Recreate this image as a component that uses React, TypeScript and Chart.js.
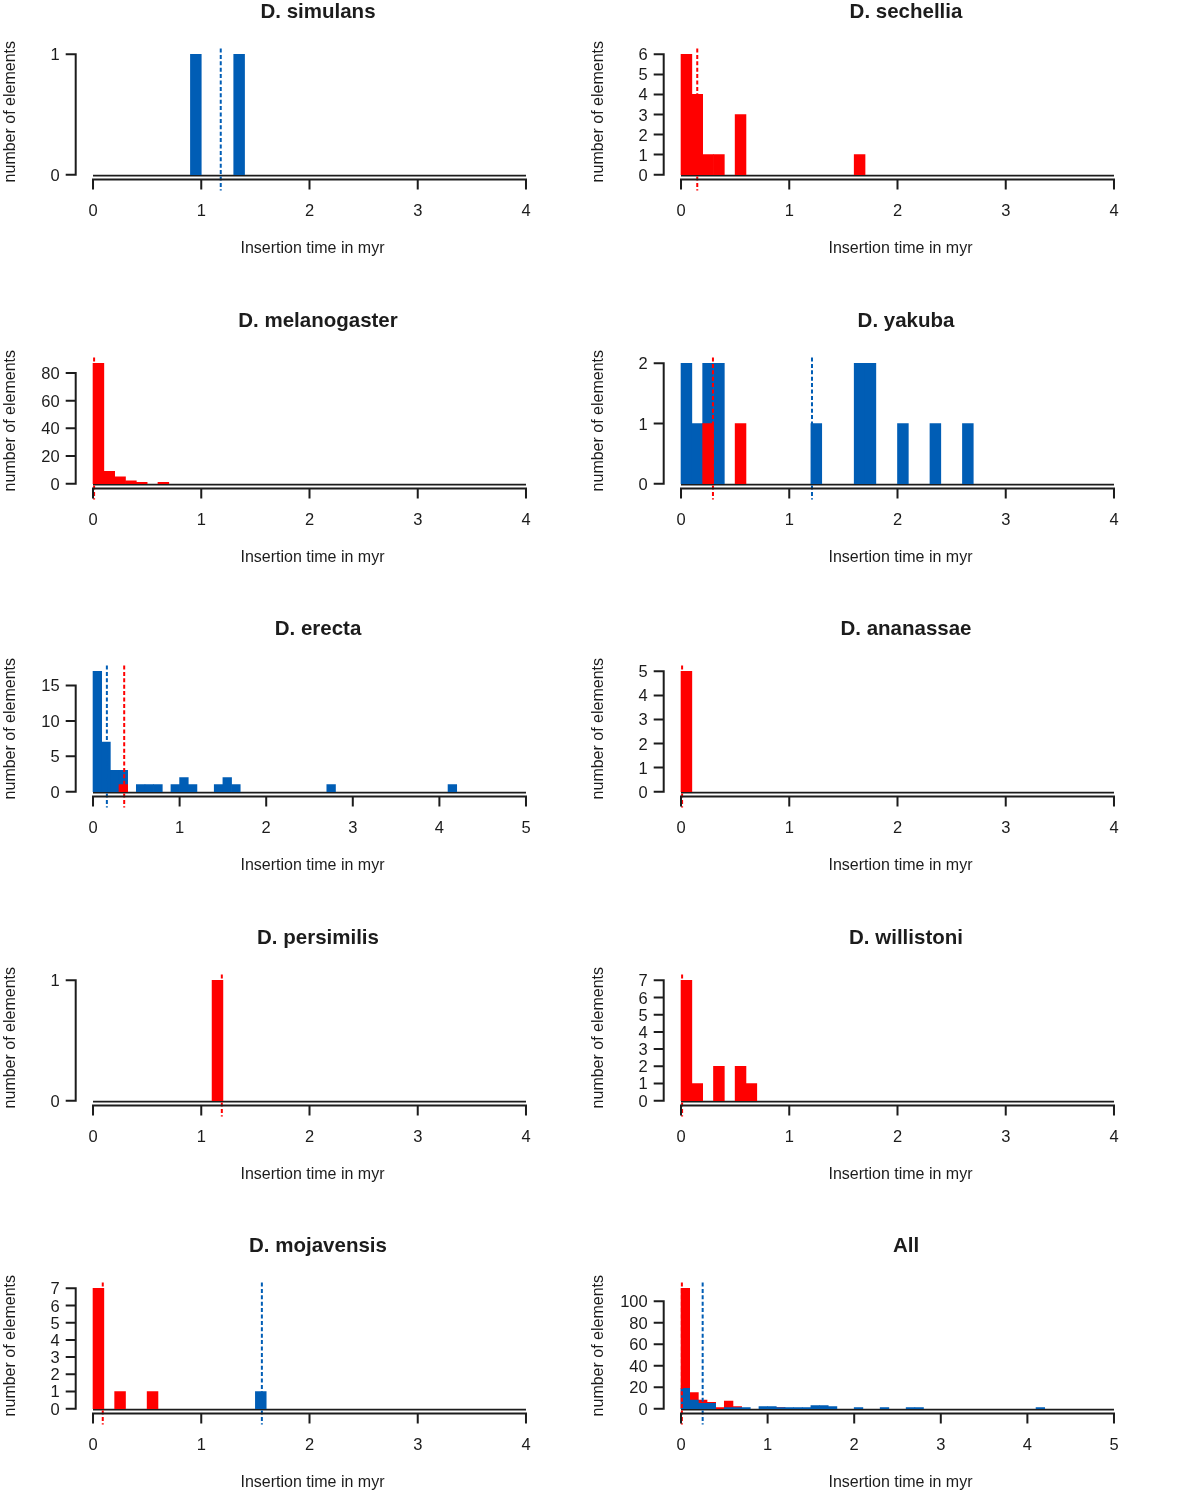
import React, { useEffect, useRef } from 'react';
import { Chart, registerables } from 'chart.js';

Chart.register(...registerables);

// ---------------- data ----------------
const BIN_WIDTH = 0.1; // myr per histogram bin

const titles = [
  'D. simulans', 'D. sechellia', 'D. melanogaster', 'D. yakuba', 'D. erecta',
  'D. ananassae', 'D. persimilis', 'D. willistoni', 'D. mojavensis', 'All',
];

// [bin start (myr), number of elements]
const simulansRed: [number, number][] = [];
const simulansBlue: [number, number][] = [[0.9, 1], [1.3, 1]];
const sechelliaRed: [number, number][] = [[0, 6], [0.1, 4], [0.2, 1], [0.3, 1], [0.5, 3], [1.6, 1]];
const sechelliaBlue: [number, number][] = [];
const melanogasterRed: [number, number][] = [[0, 87], [0.1, 9], [0.2, 5], [0.3, 2], [0.4, 1], [0.6, 1]];
const melanogasterBlue: [number, number][] = [];
const yakubaRed: [number, number][] = [[0.2, 1], [0.5, 1]];
const yakubaBlue: [number, number][] = [
  [0, 2], [0.1, 1], [0.2, 2], [0.3, 2], [1.2, 1], [1.6, 2], [1.7, 2], [2.0, 1], [2.3, 1], [2.6, 1],
];
const erectaRed: [number, number][] = [[0.3, 1]];
const erectaBlue: [number, number][] = [
  [0, 17], [0.1, 7], [0.2, 3], [0.3, 3], [0.5, 1], [0.6, 1], [0.7, 1], [0.9, 1], [1.0, 2], [1.1, 1],
  [1.4, 1], [1.5, 2], [1.6, 1], [2.7, 1], [4.1, 1],
];
const ananassaeRed: [number, number][] = [[0, 5]];
const ananassaeBlue: [number, number][] = [];
const persimilisRed: [number, number][] = [[1.1, 1]];
const persimilisBlue: [number, number][] = [];
const willistoniRed: [number, number][] = [[0, 7], [0.1, 1], [0.3, 2], [0.5, 2], [0.6, 1]];
const willistoniBlue: [number, number][] = [];
const mojavensisRed: [number, number][] = [[0, 7], [0.2, 1], [0.5, 1]];
const mojavensisBlue: [number, number][] = [[1.5, 1]];
const allRed: [number, number][] = [
  [0, 112], [0.1, 15], [0.2, 8], [0.3, 6], [0.4, 1], [0.5, 7], [0.6, 2], [1.1, 1], [1.6, 1],
];
const allBlue: [number, number][] = [
  [0, 19], [0.1, 8], [0.2, 5], [0.3, 5], [0.5, 1], [0.6, 1], [0.7, 1], [0.9, 2], [1.0, 2], [1.1, 1],
  [1.2, 1], [1.3, 1], [1.4, 1], [1.5, 3], [1.6, 3], [1.7, 2], [2.0, 1], [2.3, 1], [2.6, 1], [2.7, 1], [4.1, 1],
];

const redSeries = [simulansRed, sechelliaRed, melanogasterRed, yakubaRed, erectaRed,
  ananassaeRed, persimilisRed, willistoniRed, mojavensisRed, allRed];
const blueSeries = [simulansBlue, sechelliaBlue, melanogasterBlue, yakubaBlue, erectaBlue,
  ananassaeBlue, persimilisBlue, willistoniBlue, mojavensisBlue, allBlue];

// dashed mean lines (myr); null = none
const redMeans: (number | null)[] = [null, 0.15, 0.01, 0.295, 0.36, 0.01, 1.19, 0.01, 0.09, 0.01];
const blueMeans: (number | null)[] = [1.18, null, null, 1.21, 0.16, null, null, null, 1.56, 0.25];

// axis extents / tick spacing
const xMaxes = [4, 4, 4, 4, 5, 4, 4, 4, 4, 5];
const yTickSteps = [1, 1, 20, 1, 5, 1, 1, 1, 1, 20];

const X_LABEL = 'Insertion time in myr';
const Y_LABEL = 'number of elements';

// ---------------- styling ----------------
const RED = '#ff0000';
const BLUE = '#005db5';
const INK = '#1c1c1c';
const FONT = "'Liberation Sans', Arial, Helvetica, sans-serif";

const CANVAS_W = 588;
const CANVAS_H = 309;
const ROW_PITCH = 308.6;
const PAD = { left: 75.7, right: CANVAS_W - 543.3, top: 49.5, bottom: CANVAS_H - 179.5 };

function toBins(series: [number, number][], xMax: number) {
  const n = Math.round(xMax / BIN_WIDTH);
  const counts: (number | null)[] = new Array(n).fill(null);
  for (const [start, c] of series) {
    const i = Math.round(start / BIN_WIDTH);
    counts[i] = c;
  }
  return counts.map((c, i) => ({ x: (i + 0.5) * BIN_WIDTH, y: c }));
}

function maxOf(series: [number, number][]) {
  return series.reduce((m, [, c]) => Math.max(m, c), 0);
}

function makePlugin(idx: number, yMax: number) {
  const xMax = xMaxes[idx];
  const step = yTickSteps[idx];
  return {
    id: 'rPanel' + idx,
    beforeDatasetsDraw(chart: any) {
      const { ctx } = chart;
      const xs = chart.scales.x;
      const ys = chart.scales.y;
      const y0 = ys.getPixelForValue(0);
      ctx.save();
      ctx.strokeStyle = INK;
      ctx.lineWidth = 1.8;
      ctx.beginPath();
      ctx.moveTo(xs.getPixelForValue(0), y0 + 0.9);
      ctx.lineTo(xs.getPixelForValue(xMax), y0 + 0.9);
      ctx.stroke();
      ctx.restore();
    },
    afterDatasetsDraw(chart: any) {
      const { ctx, chartArea } = chart;
      const xs = chart.scales.x;
      const ys = chart.scales.y;
      ctx.save();
      // dashed mean lines
      const means: [number | null, string][] = [[redMeans[idx], RED], [blueMeans[idx], BLUE]];
      for (const [m, col] of means) {
        if (m === null) continue;
        const px = xs.getPixelForValue(m);
        ctx.strokeStyle = col;
        ctx.lineWidth = 2;
        ctx.setLineDash([4, 2.4]);
        ctx.beginPath();
        ctx.moveTo(px, chartArea.top - 1);
        ctx.lineTo(px, chartArea.bottom + 11);
        ctx.stroke();
      }
      ctx.setLineDash([]);

      ctx.strokeStyle = INK;
      ctx.fillStyle = INK;
      ctx.lineWidth = 2;

      // x axis
      const xb = chartArea.bottom;
      ctx.beginPath();
      ctx.moveTo(xs.getPixelForValue(0), xb);
      ctx.lineTo(xs.getPixelForValue(xMax), xb);
      for (let t = 0; t <= xMax; t++) {
        const px = xs.getPixelForValue(t);
        ctx.moveTo(px, xb - 1);
        ctx.lineTo(px, xb + 10);
      }
      ctx.stroke();
      ctx.font = `16.5px ${FONT}`;
      ctx.textAlign = 'center';
      ctx.textBaseline = 'alphabetic';
      for (let t = 0; t <= xMax; t++) {
        ctx.fillText(String(t), xs.getPixelForValue(t), xb + 36.5);
      }

      // y axis
      const yl = chartArea.left;
      const lastTick = Math.floor(yMax / step) * step;
      ctx.beginPath();
      ctx.moveTo(yl, ys.getPixelForValue(0));
      ctx.lineTo(yl, ys.getPixelForValue(lastTick));
      for (let t = 0; t <= lastTick; t += step) {
        const py = ys.getPixelForValue(t);
        ctx.moveTo(yl + 1, py);
        ctx.lineTo(yl - 10, py);
      }
      ctx.stroke();
      ctx.textAlign = 'right';
      for (let t = 0; t <= lastTick; t += step) {
        ctx.fillText(String(t), yl - 16, ys.getPixelForValue(t) + 6);
      }

      // titles
      const cx = (chartArea.left + chartArea.right) / 2;
      ctx.textAlign = 'center';
      ctx.font = `bold 20.5px ${FONT}`;
      ctx.fillText(titles[idx], cx + 8.5, 18.3);
      ctx.font = `16px ${FONT}`;
      ctx.fillText(X_LABEL, cx + 3, 253.3);
      ctx.save();
      ctx.translate(15, 111.7);
      ctx.rotate(-Math.PI / 2);
      ctx.fillText(Y_LABEL, 0, 0);
      ctx.restore();
      ctx.restore();
    },
  };
}

function Panel({ idx }: { idx: number }) {
  const ref = useRef<HTMLCanvasElement>(null);
  const row = Math.floor(idx / 2);
  const col = idx % 2;
  useEffect(() => {
    const xMax = xMaxes[idx];
    const red = redSeries[idx];
    const blue = blueSeries[idx];
    const redMax = maxOf(red);
    const blueMax = maxOf(blue);
    const yMax = Math.max(redMax, blueMax);
    const datasets: any[] = [];
    const common = {
      type: 'bar',
      grouped: false,
      barPercentage: 1,
      categoryPercentage: 1,
      borderWidth: 0,
    };
    if (red.length) {
      datasets.push({ ...common, label: 'red', data: toBins(red, xMax), backgroundColor: RED, order: redMax >= blueMax ? 2 : 1 });
    }
    if (blue.length) {
      datasets.push({ ...common, label: 'blue', data: toBins(blue, xMax), backgroundColor: BLUE, order: blueMax > redMax ? 2 : 1 });
    }
    const chart = new Chart(ref.current as HTMLCanvasElement, {
      type: 'bar',
      data: { datasets },
      options: {
        responsive: false,
        animation: false,
        events: [],
        layout: { padding: PAD },
        plugins: { legend: { display: false }, tooltip: { enabled: false }, title: { display: false } },
        scales: {
          x: { type: 'linear', offset: false, min: -0.04 * xMax, max: 1.04 * xMax, display: false, ticks: { stepSize: 1 }, grid: { offset: false } },
          y: { type: 'linear', min: -0.04 * yMax, max: 1.04 * yMax, display: false },
        },
      },
      plugins: [makePlugin(idx, yMax)],
    } as any);
    return () => chart.destroy();
  }, [idx]);
  return (
    <canvas
      ref={ref}
      width={CANVAS_W}
      height={CANVAS_H}
      style={{
        position: 'absolute',
        left: col * CANVAS_W,
        top: Math.round(row * ROW_PITCH),
        width: CANVAS_W,
        height: CANVAS_H,
      }}
    />
  );
}

export default function App() {
  return (
    <div
      style={{
        position: 'absolute',
        left: 0,
        top: 0,
        width: 1200,
        height: 1493,
        overflow: 'hidden',
        background: '#ffffff',
      }}
    >
      {titles.map((_, i) => (
        <Panel key={i} idx={i} />
      ))}
    </div>
  );
}
